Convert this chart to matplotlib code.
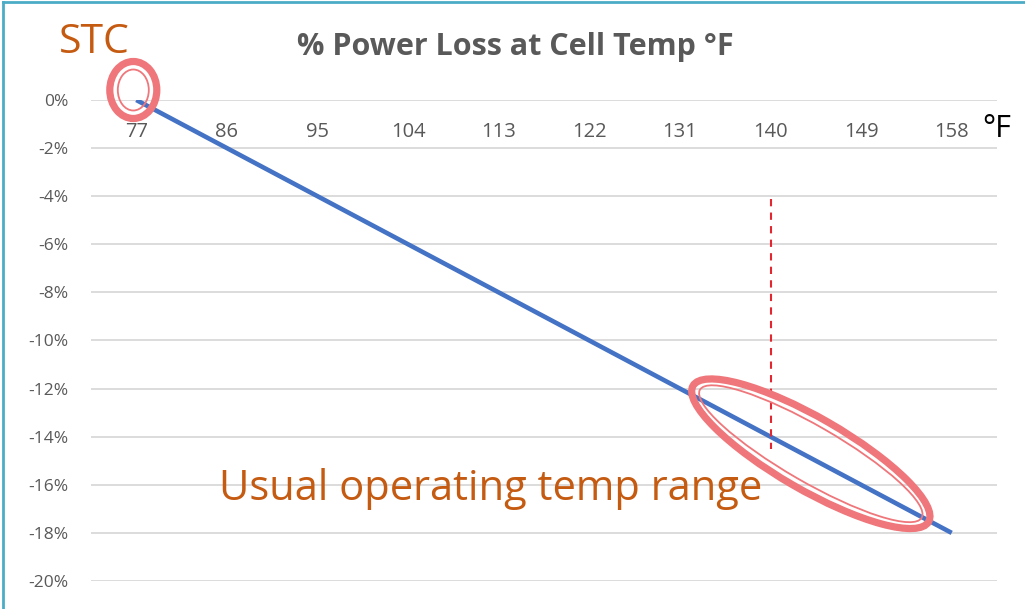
import matplotlib
matplotlib.use("Agg")
import matplotlib.pyplot as plt
from matplotlib.patches import Ellipse
from matplotlib.lines import Line2D
from matplotlib.ticker import FuncFormatter

# ---- data ----
temps_f = ["77", "86", "95", "104", "113", "122", "131", "140", "149", "158"]
power_loss_pct = [0, -2, -4, -6, -8, -10, -12, -14, -16, -18]
y_ticks = [0, -2, -4, -6, -8, -10, -12, -14, -16, -18, -20]
title = "% Power Loss at Cell Temp \u00b0F"
marker_temp = "140"
marker_range = (-4.1, -14.5)

W, H, DPI = 1025, 609, 100
plt.rcParams['font.family'] = ['Open Sans', 'DejaVu Sans']

fig = plt.figure(figsize=(W / DPI, H / DPI), dpi=DPI)
fig.patch.set_facecolor("white")

def px(x0, y0, x1, y1):
    return [x0 / W, 1 - y1 / H, (x1 - x0) / W, (y1 - y0) / H]

ax = fig.add_axes(px(91, 100, 997, 581))
xs = list(range(len(temps_f)))
ax.set_xlim(-0.5, len(temps_f) - 0.5)
ax.set_ylim(-20, 0)
for s in ax.spines.values():
    s.set_visible(False)
ax.set_yticks(y_ticks)
ax.yaxis.set_major_formatter(FuncFormatter(lambda v, p: f"{int(round(v))}%"))
ax.tick_params(axis="y", length=0, pad=16, labelsize=12.5, labelcolor="#595959")
ax.set_xticks([])
ax.grid(axis="y", color="#D9D9D9", linewidth=1.3)
ax.set_axisbelow(True)

# category labels sit just below the 0% line (axis crosses at 0)
for x, lab in zip(xs, temps_f):
    ax.annotate(lab, (x, 0), xytext=(0, -15.5), textcoords="offset points",
                ha="center", va="top", fontsize=14.5, color="#595959")
ax.annotate("\u00b0F", (len(temps_f) - 1, 0), xytext=(22, -10), textcoords="offset points",
            ha="left", va="top", fontsize=22, color="black", annotation_clip=False)

ax.plot(xs, power_loss_pct, color="#4472C4", linewidth=3.3, solid_capstyle="butt", zorder=3)

mi = temps_f.index(marker_temp)
ax.plot([mi, mi], list(marker_range), color="#E3262F", linewidth=1.5,
        dashes=(3.5, 3), zorder=4)

# titles / annotations
fig.text(515 / W, 1 - 47 / H, title, ha="center", va="center", fontsize=22,
         fontweight="bold", color="#595959")
fig.text(59 / W, 1 - 43 / H, "STC", ha="left", va="center", fontsize=29.5, color="#C55A11")
fig.text(219 / W, 1 - 500 / H, "Usual operating temp range", ha="left", va="baseline",
         fontsize=30, color="#C55A11")

# overlay for callout ellipses in pixel space
ov = fig.add_axes([0, 0, 1, 1], facecolor="none")
ov.set_xlim(0, W)
ov.set_ylim(H, 0)
ov.axis("off")

def to_px(x, y):
    dx, dy = ax.transData.transform((x, y))
    fx, fy = fig.transFigure.inverted().transform((dx, dy))
    return fx * W, (1 - fy) * H

ring = "#EF767A"
def double_ellipse(cx, cy, w, h, ang):
    ov.add_patch(Ellipse((cx, cy), w, h, angle=ang, fill=False, edgecolor=ring, linewidth=5.2))
    ov.add_patch(Ellipse((cx, cy), w - 16, h - 16, angle=ang, fill=False, edgecolor=ring, linewidth=1.3))

sx, sy = to_px(0, 0)
double_ellipse(sx - 3, sy - 10, 47, 57, 0)

c1 = to_px(6, -12)
c2 = to_px(9, -18)
cx = (c1[0] + c2[0]) / 2 - 5
cy = (c1[1] + c2[1]) / 2 - 7
double_ellipse(cx, cy, 272, 72, 30)

# teal border at left and top
fig.add_artist(Line2D([3 / W, 3 / W], [0, 1 - 1.5 / H], color="#4BACC6", linewidth=2))
fig.add_artist(Line2D([3 / W, 1], [1 - 1.5 / H, 1 - 1.5 / H], color="#4BACC6", linewidth=2))

fig.savefig("out.png", dpi=DPI, facecolor="white")
